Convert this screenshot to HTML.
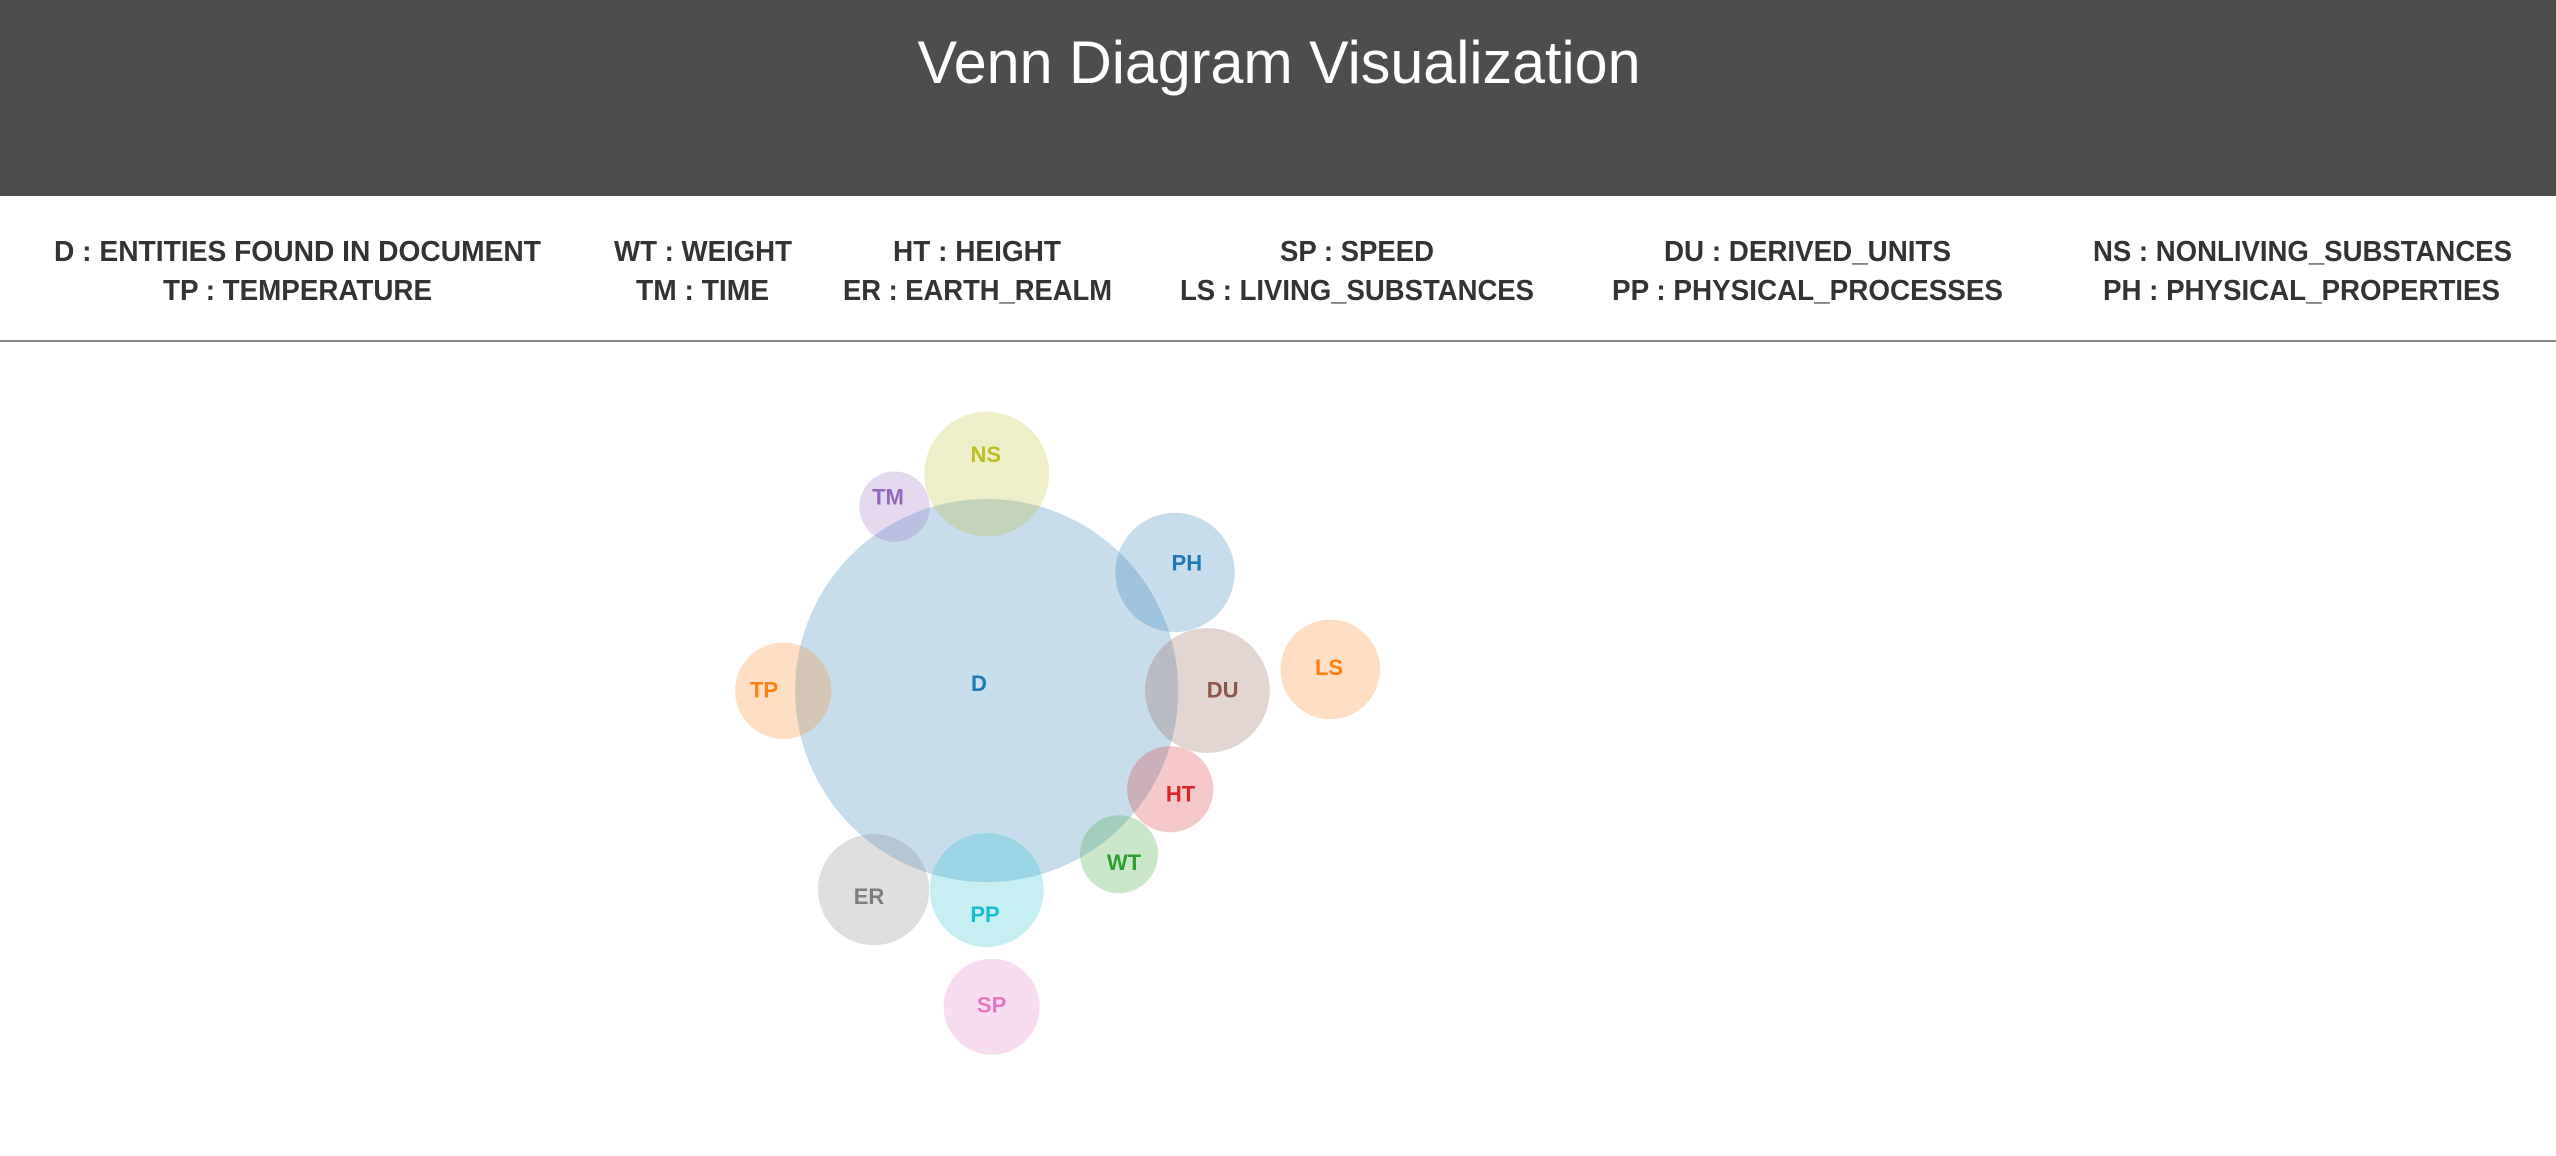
<!DOCTYPE html>
<html><head><meta charset="utf-8"><style>
html,body{margin:0;padding:0;background:#fff;}
svg{display:block;}
</style></head><body>
<svg width="2556" height="1156" viewBox="0 0 2556 1156" xmlns="http://www.w3.org/2000/svg" font-family="Liberation Sans, Arial, sans-serif">
<rect x="0" y="0" width="2556" height="196" fill="#4d4d4d"/>
<text x="1279" y="83" font-size="60" fill="#fff" text-anchor="middle" textLength="723" lengthAdjust="spacingAndGlyphs">Venn Diagram Visualization</text>
<g font-size="29" font-weight="bold" fill="#333">
<text x="54" y="261" textLength="487" lengthAdjust="spacingAndGlyphs">D : ENTITIES FOUND IN DOCUMENT</text>
<text x="614" y="261" textLength="178" lengthAdjust="spacingAndGlyphs">WT : WEIGHT</text>
<text x="893" y="261" textLength="168" lengthAdjust="spacingAndGlyphs">HT : HEIGHT</text>
<text x="1280" y="261" textLength="154" lengthAdjust="spacingAndGlyphs">SP : SPEED</text>
<text x="1664" y="261" textLength="287" lengthAdjust="spacingAndGlyphs">DU : DERIVED_UNITS</text>
<text x="2093" y="261" textLength="419" lengthAdjust="spacingAndGlyphs">NS : NONLIVING_SUBSTANCES</text>
<text x="163" y="300" textLength="269" lengthAdjust="spacingAndGlyphs">TP : TEMPERATURE</text>
<text x="636" y="300" textLength="133" lengthAdjust="spacingAndGlyphs">TM : TIME</text>
<text x="843" y="300" textLength="269" lengthAdjust="spacingAndGlyphs">ER : EARTH_REALM</text>
<text x="1180" y="300" textLength="354" lengthAdjust="spacingAndGlyphs">LS : LIVING_SUBSTANCES</text>
<text x="1612" y="300" textLength="391" lengthAdjust="spacingAndGlyphs">PP : PHYSICAL_PROCESSES</text>
<text x="2103" y="300" textLength="397" lengthAdjust="spacingAndGlyphs">PH : PHYSICAL_PROPERTIES</text>
</g>
<rect x="0" y="340" width="2556" height="2" fill="#888"/>
<g fill-opacity="0.25">
<circle cx="986.7" cy="690.5" r="191.6" fill="#1f77b4"/>
<circle cx="986.7" cy="474" r="62.4" fill="#bcbd22"/>
<circle cx="894.5" cy="506.7" r="35.2" fill="#9467bd"/>
<circle cx="1175" cy="572.5" r="59.7" fill="#1f77b4"/>
<circle cx="1330.3" cy="669.4" r="49.8" fill="#ff7f0e"/>
<circle cx="1207.4" cy="690.5" r="62.4" fill="#8c564b"/>
<circle cx="783.2" cy="690.7" r="48.2" fill="#ff7f0e"/>
<circle cx="1170.2" cy="789.2" r="43.1" fill="#d62728"/>
<circle cx="1119" cy="854.2" r="39" fill="#2ca02c"/>
<circle cx="873.6" cy="889.6" r="55.6" fill="#7f7f7f"/>
<circle cx="986.7" cy="890" r="57" fill="#17becf"/>
<circle cx="991.6" cy="1006.7" r="48" fill="#e377c2"/>
</g>
<g font-size="22" font-weight="bold" text-anchor="middle">
<text x="979" y="691" fill="#1f77b4">D</text>
<text x="985.8" y="462" fill="#bcbd22">NS</text>
<text x="888" y="504.6" fill="#9467bd">TM</text>
<text x="1186.8" y="570.6" fill="#1f77b4">PH</text>
<text x="1329" y="675" fill="#ff7f0e">LS</text>
<text x="1222.6" y="697.5" fill="#8c564b">DU</text>
<text x="764" y="697.6" fill="#ff7f0e">TP</text>
<text x="1180.5" y="801.6" fill="#d62728">HT</text>
<text x="1124" y="870" fill="#2ca02c">WT</text>
<text x="869" y="904" fill="#7f7f7f">ER</text>
<text x="985" y="922" fill="#17becf">PP</text>
<text x="991.6" y="1012.5" fill="#e377c2">SP</text>
</g>
</svg>
</body></html>
